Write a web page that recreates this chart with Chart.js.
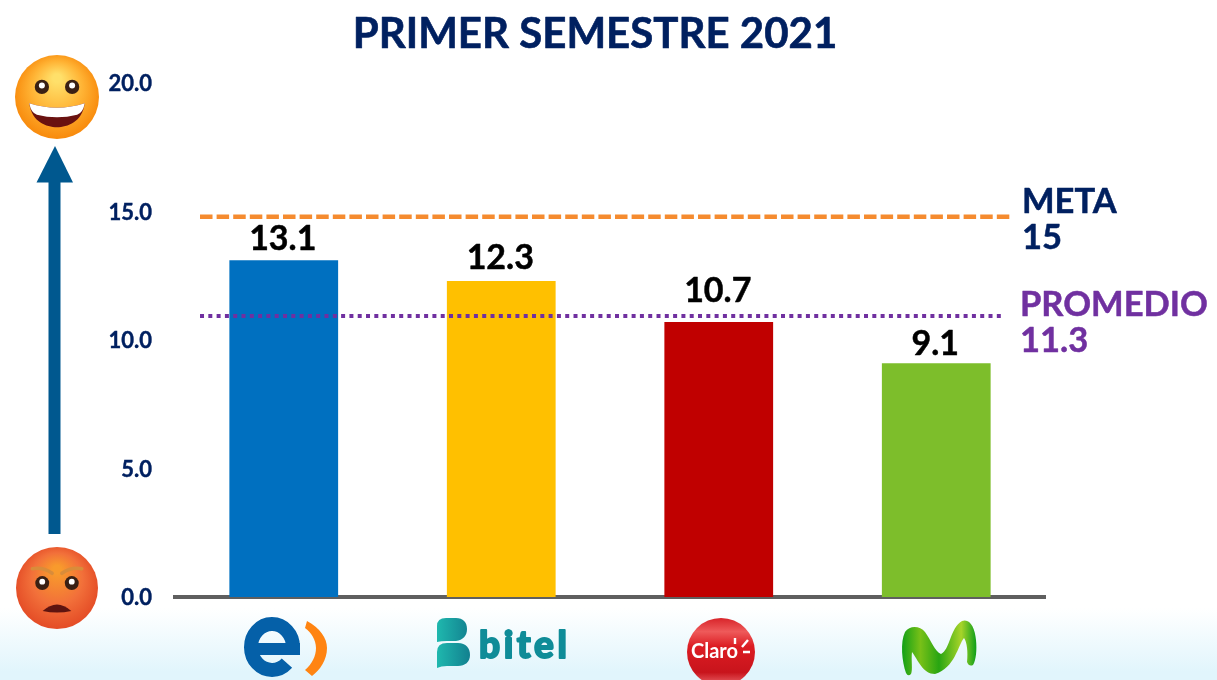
<!DOCTYPE html>
<html><head><meta charset="utf-8">
<style>
html,body{margin:0;padding:0;width:1217px;height:680px;overflow:hidden;background:#fff}
body{background:linear-gradient(to bottom,#fff 0,#fff 608px,#e1f5fc 672px,#e1f5fc 680px)}
canvas{display:block}
</style>
<script src="https://cdn.jsdelivr.net/npm/chart.js@4"></script>
</head><body><canvas id="c" width="1217" height="680"></canvas>
<script>
const titleText = "PRIMER SEMESTRE 2021";
const categories = ["Entel","Bitel","Claro","Movistar"];
const values = [13.1,12.3,10.7,9.1];
const barColors = ["#0070C0","#FFC000","#C00000","#7DBE2B"];
const yTicks = [0,5,10,15,20];
const metaLabel = ["META","15"];
const promedioLabel = ["PROMEDIO","11.3"];
const metaLevel = 14.8;
const promedioLevel = 10.93;
const metaSpan = [0.115,3.84];
const promedioSpan = [0.115,3.80];

const labelGap = [21,23,31,19];
const F = "Lato, Carlito, Calibri, sans-serif";
function boldText(ctx,t,x,y,w){
  ctx.lineWidth=w;ctx.lineJoin="round";ctx.strokeStyle=ctx.fillStyle;
  ctx.strokeText(t,x,y);ctx.fillText(t,x,y);
}
function face(ctx,cx,cy,r,happy){
  ctx.save();
  const g=ctx.createRadialGradient(cx,cy-r*0.45,r*0.1,cx,cy-r*0.05,r*1.05);
  if(happy){g.addColorStop(0,"#ffe06a");g.addColorStop(.55,"#ffb233");g.addColorStop(1,"#f88a0c");}
  else{g.addColorStop(0,"#f89a2c");g.addColorStop(.55,"#f2703a");g.addColorStop(1,"#e44c26");}
  ctx.fillStyle=g;ctx.beginPath();ctx.arc(cx,cy,r,0,Math.PI*2);ctx.fill();
  const ex=r*0.36,ey=happy?-r*0.24:-r*0.12,er=r*0.17;
  [-1,1].forEach(s=>{
    ctx.fillStyle="#3a2014";ctx.beginPath();ctx.arc(cx+s*ex,cy+ey,er,0,7);ctx.fill();
    ctx.fillStyle="#fff";ctx.beginPath();ctx.arc(cx+s*ex,cy+ey-er*.2,er*.42,0,7);ctx.fill();
    if(!happy){ctx.strokeStyle="#d98c3a";ctx.lineWidth=r*.09;ctx.lineCap="round";ctx.beginPath();
      ctx.moveTo(cx+s*r*.6,cy-r*.47);ctx.quadraticCurveTo(cx+s*r*.35,cy-r*.52,cx+s*r*.12,cy-r*.36);ctx.stroke();}
  });
  if(happy){
    ctx.fillStyle="#6a1210";ctx.beginPath();
    ctx.moveTo(cx-r*.66,cy+r*.15);ctx.quadraticCurveTo(cx,cy+r*.36,cx+r*.66,cy+r*.15);
    ctx.bezierCurveTo(cx+r*.6,cy+r*.6,cx+r*.25,cy+r*.72,cx,cy+r*.72);
    ctx.bezierCurveTo(cx-r*.25,cy+r*.72,cx-r*.6,cy+r*.6,cx-r*.66,cy+r*.15);ctx.fill();
    ctx.fillStyle="#fff";ctx.beginPath();
    ctx.moveTo(cx-r*.66,cy+r*.15);ctx.quadraticCurveTo(cx,cy+r*.36,cx+r*.66,cy+r*.15);
    ctx.quadraticCurveTo(cx+r*.62,cy+r*.38,cx+r*.48,cy+r*.42);ctx.quadraticCurveTo(cx,cy+r*.54,cx-r*.48,cy+r*.42);
    ctx.quadraticCurveTo(cx-r*.62,cy+r*.38,cx-r*.66,cy+r*.15);ctx.fill();
  } else {
    ctx.fillStyle="#5e1410";ctx.beginPath();
    ctx.moveTo(cx-r*.35,cy+r*.56);ctx.quadraticCurveTo(cx,cy+r*.24,cx+r*.35,cy+r*.56);
    ctx.quadraticCurveTo(cx,cy+r*.64,cx-r*.35,cy+r*.56);ctx.fill();
  }
  ctx.restore();
}
function arrow(ctx){
  ctx.fillStyle="#00588F";
  ctx.fillRect(48.5,180,12,354);
  ctx.beginPath();ctx.moveTo(55,146);ctx.lineTo(73,182.5);ctx.lineTo(36.5,182.5);ctx.closePath();ctx.fill();
}
function logoEntel(ctx){
  ctx.save();
  ctx.strokeStyle="#0560A8";ctx.lineWidth=14;ctx.lineCap="butt";
  ctx.beginPath();ctx.ellipse(272,647,21,23,0,0.78,Math.PI*2,false);ctx.stroke();
  ctx.fillStyle="#0560A8";ctx.fillRect(255,643,45,12);
  ctx.fillStyle="#FF8412";ctx.beginPath();
  ctx.moveTo(307,621);ctx.bezierCurveTo(320,628,327,638,327,648);
  ctx.bezierCurveTo(327,660,320,670,312,676);
  ctx.lineTo(305,670);ctx.bezierCurveTo(312,664,316,656,316,648);
  ctx.bezierCurveTo(316,640,311,632,305,628);ctx.closePath();ctx.fill();
  ctx.restore();
}
function logoBitel(ctx){
  ctx.save();
  const g=ctx.createLinearGradient(437,0,470,0);g.addColorStop(0,"#1fb8ae");g.addColorStop(1,"#12808f");
  ctx.fillStyle=g;
  ctx.beginPath();
  ctx.moveTo(437,642);ctx.lineTo(437,626);ctx.quadraticCurveTo(437,618,446,618);
  ctx.lineTo(456,618);ctx.bezierCurveTo(463,618,467,622,467,629);
  ctx.bezierCurveTo(467,636,463,640,456,641);ctx.lineTo(447,641);ctx.quadraticCurveTo(441,641,437,642);ctx.closePath();ctx.fill();
  ctx.beginPath();
  ctx.moveTo(437,668);ctx.lineTo(437,652);ctx.quadraticCurveTo(437,643,447,643);
  ctx.lineTo(458,643);ctx.bezierCurveTo(466,643,470,648,470,655);
  ctx.bezierCurveTo(470,662,465,666,458,666);ctx.lineTo(447,666);ctx.quadraticCurveTo(441,666,437,668);ctx.closePath();ctx.fill();
  ctx.fillStyle="#0F8C98";ctx.font="900 37px "+F;ctx.textAlign="left";ctx.textBaseline="alphabetic";
  ctx.letterSpacing="3.5px";
  boldText(ctx,"bitel",479,658,1.8);
  ctx.letterSpacing="0px";
  ctx.restore();
}
function logoClaro(ctx){
  ctx.save();
  const x=721,y=652,r=34;
  const g=ctx.createLinearGradient(0,y-r,0,y+r);
  g.addColorStop(0,"#d8242a");g.addColorStop(.2,"#ee5a5a");g.addColorStop(.42,"#dc1c22");g.addColorStop(.8,"#c8141c");g.addColorStop(1,"#ee6a6e");
  ctx.fillStyle=g;ctx.beginPath();ctx.arc(x,y,r,0,7);ctx.fill();
  ctx.fillStyle="#fff";ctx.font="bold 20px "+F;ctx.textAlign="left";ctx.textBaseline="alphabetic";
  ctx.fillText("Claro",691,658);
  ctx.strokeStyle="#fff";ctx.lineWidth=2.4;
  ctx.beginPath();ctx.moveTo(735,638);ctx.lineTo(735,644);ctx.moveTo(748,640);ctx.lineTo(742,647);ctx.moveTo(743,652);ctx.lineTo(750,652);ctx.stroke();
  ctx.restore();
}
function logoMovistar(ctx){
  ctx.save();
  const g=ctx.createLinearGradient(902,0,976,0);
  g.addColorStop(0,"#12a016");g.addColorStop(.25,"#78c018");g.addColorStop(.5,"#28a512");g.addColorStop(.8,"#a8d42a");g.addColorStop(1,"#12a01a");
  ctx.fillStyle=g;
  ctx.beginPath();
  ctx.moveTo(906,673);
  ctx.bezierCurveTo(902,662,900,642,905,632);
  ctx.bezierCurveTo(910,625,920,626,925,632);
  ctx.bezierCurveTo(931,640,935,652,941,654);
  ctx.bezierCurveTo(950,650,950,628,962,621);
  ctx.bezierCurveTo(970,618,975,628,976,640);
  ctx.bezierCurveTo(977,650,976,660,973,665);
  ctx.quadraticCurveTo(969,667,967,662);
  ctx.bezierCurveTo(968,652,967,642,964,638);
  ctx.bezierCurveTo(958,645,955,668,935,674);
  ctx.bezierCurveTo(923,674,918,660,912,652);
  ctx.bezierCurveTo(911,660,913,670,911,674);
  ctx.quadraticCurveTo(908,677,906,673);
  ctx.closePath();ctx.fill();
  ctx.restore();
}
const decor = {
  id:"decor",
  afterDraw(chart){
    const {ctx,scales:{x,y}}=chart;
    ctx.save();
    ctx.textBaseline="middle";ctx.textAlign="center";
    ctx.fillStyle="#002060";ctx.font="bold 42px "+F;
    boldText(ctx,titleText,595,34,0.6);
    ctx.fillStyle="#000";ctx.font="bold 34px "+F;
    values.forEach((v,i)=>boldText(ctx,v.toFixed(1),x.getPixelForValue(i)-1,y.getPixelForValue(v)-labelGap[i],0.5));
    ctx.textAlign="left";ctx.font="bold 34.5px "+F;
    ctx.fillStyle="#002060";
    metaLabel.forEach((t,i)=>boldText(ctx,t,1022,202+i*36,0.5));
    ctx.fillStyle="#7030A0";
    promedioLabel.forEach((t,i)=>boldText(ctx,t,1020,305+i*36,0.5));
    arrow(ctx);
    face(ctx,57,97,42,true);
    face(ctx,57,588,41,false);
    logoEntel(ctx);
    logoBitel(ctx);
    logoClaro(ctx);
    logoMovistar(ctx);
    ctx.restore();
  }
};
new Chart(document.getElementById("c"),{
  data:{labels:categories,datasets:[
    {type:"scatter",xAxisID:"x2",showLine:true,pointRadius:0,order:0,borderColor:"#F58B2F",borderWidth:4.5,borderDash:[12.5,4.1],
     data:metaSpan.map(v=>({x:v,y:metaLevel}))},
    {type:"scatter",xAxisID:"x2",showLine:true,pointRadius:0,order:0,borderColor:"#7030A0",borderWidth:4,borderDash:[4,4.3],
     data:promedioSpan.map(v=>({x:v,y:promedioLevel}))},
    {type:"bar",xAxisID:"x",data:values,backgroundColor:barColors,barPercentage:.5,categoryPercentage:1,grouped:false,order:1}
  ]},
  options:{
    responsive:false,animation:false,
    layout:{padding:{left:0,right:172,top:83,bottom:83}},
    plugins:{legend:{display:false},title:{display:false},tooltip:{enabled:false}},
    scales:{
      x:{type:"category",offset:true,grid:{display:false,drawTicks:false},border:{display:true,color:"#5F5F5F",width:4},ticks:{display:false},afterFit(s){s.height=0}},
      x2:{type:"linear",display:false,min:0,max:4},
      y:{min:0,max:20,afterFit(s){s.width=175},grid:{display:false,drawTicks:false},border:{display:false},
        afterBuildTicks(s){s.ticks=yTicks.map(v=>({value:v}))},
        ticks:{color:"#002060",padding:23,labelOffset:1,textStrokeColor:"#002060",textStrokeWidth:0.4,font:{family:F,weight:"bold",size:22},callback:v=>v.toFixed(1)}}
    }
  },
  plugins:[decor]
});
</script></body></html>
